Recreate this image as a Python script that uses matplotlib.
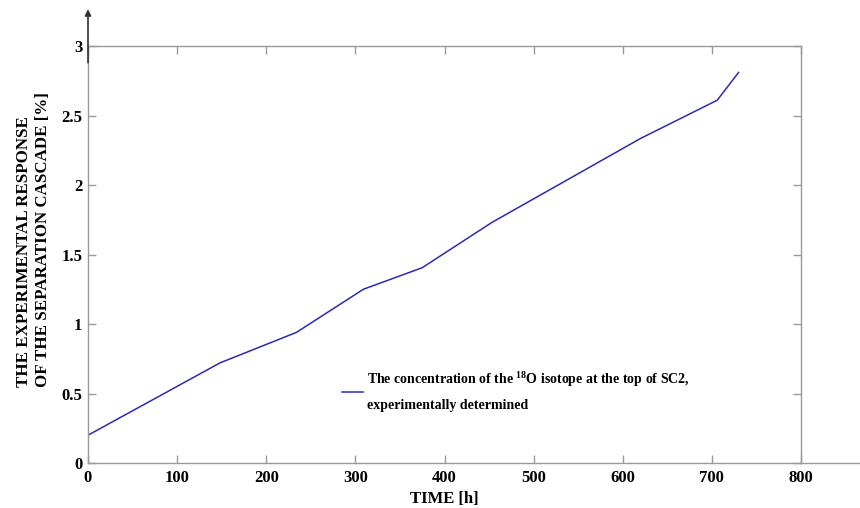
import matplotlib
matplotlib.use("Agg")
import matplotlib.pyplot as plt

# Measured concentration of 18O at the top of SC2
time_h = [0, 148, 234, 309, 375, 453, 620, 706, 730]
concentration = [0.20, 0.72, 0.94, 1.25, 1.405, 1.73, 2.335, 2.61, 2.81]

x_ticks = [0, 100, 200, 300, 400, 500, 600, 700, 800]
y_ticks = [0, 0.5, 1, 1.5, 2, 2.5, 3]
y_tick_labels = ["0", "0.5", "1", "1.5", "2", "2.5", "3"]

plt.rcParams["font.family"] = ["Liberation Serif", "DejaVu Serif"]
plt.rcParams["font.weight"] = "bold"
plt.rcParams["mathtext.fontset"] = "custom"
plt.rcParams["mathtext.rm"] = "Liberation Serif:bold"
plt.rcParams["mathtext.bf"] = "Liberation Serif:bold"
plt.rcParams["mathtext.it"] = "Liberation Serif:bold"

spine_col = "#999999"
line_col = "#2a2ab4"

fig = plt.figure(figsize=(8.6, 5.08), dpi=100)
ax = fig.add_axes([88 / 860, 45 / 508, 713 / 860, 417 / 508])

ax.plot(time_h, concentration, color=line_col, lw=1.1,
        label="The concentration of the $^{18}$O isotope at the top of SC2,\nexperimentally determined")

ax.set_xlim(0, 800)
ax.set_ylim(0, 3)
ax.set_xticks(x_ticks)
ax.set_yticks(y_ticks)
ax.set_yticklabels(y_tick_labels)

for s in ax.spines.values():
    s.set_color(spine_col)
    s.set_linewidth(1.0)

ax.tick_params(direction="in", length=6, color=spine_col, width=1.0,
               top=True, right=True, labelsize=12)
ax.tick_params(axis="x", pad=5)
ax.tick_params(axis="y", pad=4)
for lab in ax.get_xticklabels() + ax.get_yticklabels():
    lab.set_fontweight("bold")

# Extended baseline to the right of the frame
ax.plot([800, 866], [0, 0], color=spine_col, lw=1.0, clip_on=False)

# Arrow at the top of the vertical axis
ax.annotate("", xy=(0, 3.265), xytext=(0, 2.88), xycoords="data",
            arrowprops=dict(arrowstyle="-|>", color="#303030", lw=1.2,
                            mutation_scale=9, shrinkA=0, shrinkB=0),
            annotation_clip=False)

ax.set_xlabel("TIME [h]", fontsize=12, fontweight="bold")
ax.xaxis.set_label_coords(0.5, -0.066)
ax.set_ylabel("THE EXPERIMENTAL RESPONSE\nOF THE SEPARATION CASCADE [%]",
              fontsize=12.2, fontweight="bold", linespacing=1.25,
              multialignment="left")
ax.yaxis.set_label_coords(-0.052, 0.535)

leg = ax.legend(loc="upper left", bbox_to_anchor=(0.356, 0.222), frameon=False,
                fontsize=10, handlelength=1.5, handletextpad=0.3,
                borderpad=0, borderaxespad=0)
for t in leg.get_texts():
    t.set_fontweight("bold")
    t.set_linespacing(2.0)

fig.savefig("out.png", dpi=100)
